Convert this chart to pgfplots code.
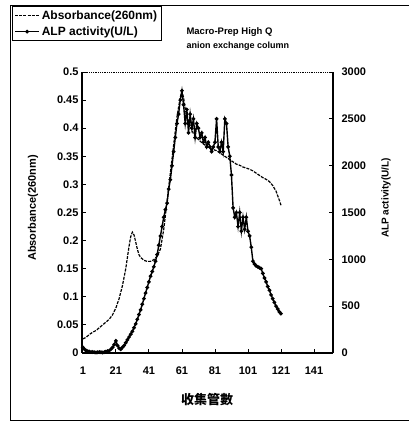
\documentclass[border=0pt]{standalone}
\usepackage{fontspec}
\setmainfont{Liberation Sans}
\newfontfamily\cjk{Noto Sans CJK TC}
\usepackage{pgfplots}
\pgfplotsset{compat=1.18}

\begin{document}
\begin{tikzpicture}[x=1pt,y=1pt]
\useasboundingbox (0,0) rectangle (409,427);
% outer frame of the scanned figure
\draw[line width=1pt] (409,421) -- (10,421) -- (10,6) -- (409,6);

\begin{axis}[at={(82pt,74pt)},anchor=south west,scale only axis,
  width=251pt,height=281pt,
  xmin=0.5,xmax=152.5,ymin=0,ymax=0.5,
  axis x line*=bottom,axis y line*=left,
  axis line style={line width=1.3pt},
  tick align=inside,major tick length=4pt,
  tick style={line width=0.8pt,black},
  xtick={1,21,41,61,81,101,121,141},
  ytick={0,0.05,0.1,0.15,0.2,0.25,0.3,0.35,0.4,0.45,0.5},
  yticklabels={0,0.05,0.1,0.15,0.2,0.25,0.3,0.35,0.4,0.45,0.5},
  xticklabel style={yshift=-10pt},
  tick label style={font=\fontsize{11}{11}\selectfont\bfseries},
  /pgf/number format/assume math mode=true]
\addplot[black,line width=1.2pt,dash pattern=on 3pt off 1.2pt] coordinates {
 (1,0.025)(3,0.028)(5,0.033)(7,0.037)(9,0.040)(11,0.045)(13,0.050)(15,0.055)
 (17,0.060)(19,0.068)(21,0.080)(23,0.097)(25,0.120)(27,0.150)(28,0.170)(29,0.190)
 (30,0.207)(31,0.215)(32,0.210)(33,0.198)(34,0.185)(35,0.175)(36,0.170)(38,0.165)
 (40,0.163)(42,0.163)(44,0.166)(46,0.172)(48,0.185)(50,0.220)(52,0.270)(54,0.320)
 (56,0.370)(58,0.420)(60,0.455)(61,0.465)(62,0.455)(63,0.435)(64,0.420)(66,0.405)
 (68,0.390)(70,0.383)(72,0.377)(74,0.372)(76,0.368)(78,0.364)(80,0.362)(82,0.360)
 (84,0.356)(86,0.352)(88,0.348)(90,0.344)(92,0.340)(94,0.336)(96,0.334)(98,0.331)
 (100,0.329)(102,0.327)(104,0.324)(106,0.320)(108,0.316)(110,0.312)(112,0.309)
 (114,0.305)(116,0.298)(118,0.288)(120,0.272)(121,0.263)};
\end{axis}
\draw[densely dotted,line width=0.8pt] (82,355) -- (333,355);

\begin{axis}[at={(82pt,74pt)},anchor=south west,scale only axis,
  width=251pt,height=281pt,
  xmin=0.5,xmax=152.5,ymin=0,ymax=3000,
  axis x line=none,axis y line*=right,
  axis line style={line width=1.3pt},
  tick align=inside,major tick length=4pt,
  tick style={line width=0.8pt,black},
  ytick={0,500,1000,1500,2000,2500,3000},
  yticklabels={0,500,1000,1500,2000,2500,3000},
  yticklabel style={xshift=5pt},
  tick label style={font=\fontsize{11}{11}\selectfont\bfseries},
  /pgf/number format/assume math mode=true,
  legend style={at={(-0.279,1.235)},anchor=north west,draw=black,line width=0.8pt,
    font=\fontsize{12}{12}\selectfont\bfseries,inner xsep=2pt,inner ysep=2pt,
    row sep=2pt,cells={anchor=west}},
  legend image code/.code={\draw[mark repeat=2,mark phase=2,#1]
    plot coordinates {(0pt,0pt)(12pt,0pt)(24pt,0pt)};}]
\addlegendimage{black,line width=1.2pt,dash pattern=on 3pt off 1.2pt}
\addlegendentry{Absorbance(260nm)}
\addplot[black,line width=1.4pt,mark=*,mark size=1.1pt] coordinates {
 (1,60)(2,40)(3,25)(4,20)(5,15)(6,10)(7,10)(8,8)(9,5)(10,8)(11,10)(12,8)(13,5)
 (14,10)(15,15)(16,20)(17,25)(18,40)(19,60)(20,90)(21,130)(22,80)(23,50)(24,40)
 (25,60)(26,80)(27,110)(28,140)(29,170)(30,200)(31,230)(32,270)(33,310)(34,360)
 (35,410)(36,460)(37,520)(38,580)(39,640)(40,700)(41,760)(42,820)(43,870)(44,920)
 (45,980)(46,1050)(47,1150)(48,1250)(49,1350)(50,1450)(51,1530)(52,1600)(53,1750)
 (54,1850)(55,2000)(56,2150)(57,2300)(58,2450)(59,2550)(60,2700)(61,2800)(62,2650)
 (63,2450)(64,2600)(65,2350)(66,2550)(67,2400)(68,2500)(69,2300)(70,2450)(71,2400)
 (72,2300)(73,2350)(74,2250)(75,2300)(76,2200)(77,2250)(78,2200)(79,2150)(80,2200)
 (81,2250)(82,2500)(83,2200)(84,2150)(85,2250)(86,2150)(87,2500)(88,2450)(89,2200)
 (90,2100)(91,1900)(92,1550)(93,1450)(94,1500)(95,1350)(96,1500)(97,1300)(98,1450)
 (99,1320)(100,1450)(101,1300)(102,1250)(103,1130)(104,980)(105,950)(106,930)
 (107,920)(108,910)(109,900)(110,850)(111,800)(112,760)(113,710)(114,670)(115,620)
 (116,580)(117,540)(118,500)(119,470)(120,440)(121,420)};
\addlegendentry{ALP activity(U/L)}
\end{axis}

\node[rotate=90,font=\fontsize{11}{11}\selectfont\bfseries] at (33,219) {Absorbance(260nm)};
\node[rotate=90,font=\fontsize{10}{10}\selectfont\bfseries] at (386,229) {ALP activity(U/L)};
\node[font=\fontsize{13}{13}\selectfont\bfseries] at (207,27) {\cjk 收集管數};
\node[anchor=west,font=\fontsize{9.5}{9.5}\selectfont\bfseries] at (183,395) {Macro-Prep High Q};
\node[anchor=west,font=\fontsize{9}{9}\selectfont\bfseries] at (183,381) {anion exchange column};
\end{tikzpicture}
\end{document}
